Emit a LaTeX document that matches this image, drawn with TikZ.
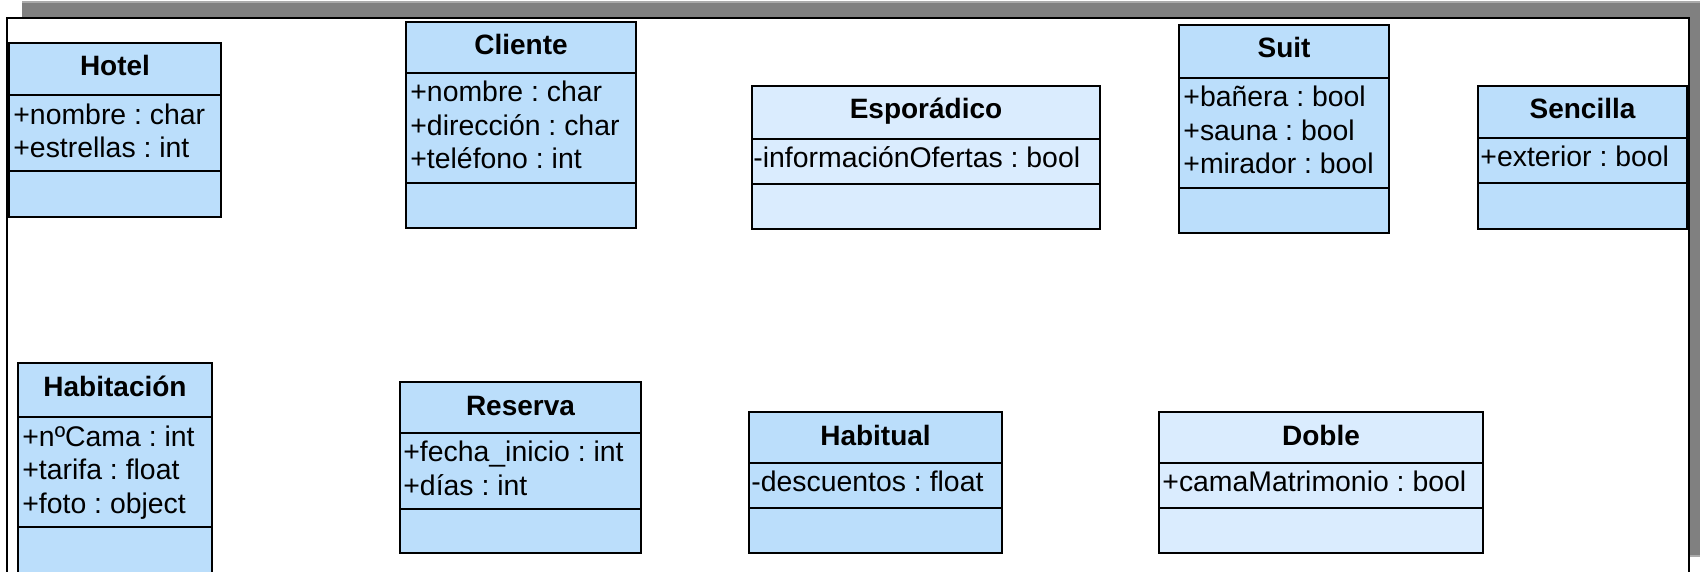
\documentclass[tikz,border=0pt]{standalone}
\usepackage{fontspec}
\setmainfont{Liberation Sans}
\usetikzlibrary{calc}
\frenchspacing
\definecolor{clsdark}{RGB}{187,222,251}
\definecolor{clslight}{RGB}{218,236,254}
\definecolor{shadowgray}{RGB}{128,128,128}
\definecolor{shadowedge}{RGB}{170,170,170}
\tikzset{
  boxline/.style={draw=black, line width=0.9pt},
  clstitle/.style={font=\fontsize{14}{16}\selectfont\bfseries, anchor=base, inner sep=0pt},
  clsattr/.style={font=\fontsize{14.2}{16}\selectfont\frenchspacing, anchor=base west, inner sep=0pt},
}
% #1 id, #2 x1, #3 x2, #4 y1, #5 yh, #6 ya, #7 y2, #8 fill, #9 title
\newcommand\umlclass[9]{%
  \fill[#8] (#2,#4) rectangle (#3,#7);
  \draw[boxline] (#2,#4) rectangle (#3,#7);
  \draw[boxline] (#2,#5) -- (#3,#5);
  \draw[boxline] (#2,#6) -- (#3,#6);
  \node[clstitle] (#1) at ({(#2+#3)/2},#4+33) {#9};
}
% #1 id, #2 x, #3 y(baseline), #4 text
\newcommand\umlattr[4]{\node[clsattr] (#1) at (#2,#3) {#4};}
\begin{document}
\begin{tikzpicture}[x=0.5pt,y=-0.5pt]
\useasboundingbox (0,0) rectangle (1700,572);
\clip (0,0) rectangle (1700,572);
% shadow and frame
\fill[shadowgray] (22,2) rectangle (1710,556);
\draw[shadowedge, line width=0.6pt] (22,2) -- (1710,2);
\draw[shadowedge, line width=0.6pt] (22,556) -- (1710,556);
\fill[white] (7,18) rectangle (1689,600);
\draw[black, line width=1.1pt] (7,600) -- (7,18) -- (1689,18) -- (1689,600);
% Hotel
\umlclass{hotel}{9}{221}{43}{95}{171}{217}{clsdark}{Hotel}
\umlattr{hotel-a1}{13}{125}{+nombre : char}
\umlattr{hotel-a2}{13}{158}{+estrellas : int}
% Cliente
\umlclass{cliente}{406}{636}{22}{73}{183}{228}{clsdark}{Cliente}
\umlattr{cliente-a1}{410}{102}{+nombre : char}
\umlattr{cliente-a2}{410}{135.5}{+dirección : char}
\umlattr{cliente-a3}{410}{169}{+teléfono : int}
% Esporadico
\umlclass{esporadico}{752}{1100}{86}{139}{184}{229}{clslight}{Esporádico}
\umlattr{esporadico-a1}{753}{168}{-informaciónOfertas : bool}
% Suit
\umlclass{suit}{1179}{1389}{25}{78}{188}{233}{clsdark}{Suit}
\umlattr{suit-a1}{1183}{107}{+bañera : bool}
\umlattr{suit-a2}{1183}{140.5}{+sauna : bool}
\umlattr{suit-a3}{1183}{174}{+mirador : bool}
% Sencilla
\umlclass{sencilla}{1478}{1687}{86}{138}{183}{229}{clsdark}{Sencilla}
\umlattr{sencilla-a1}{1480}{167}{+exterior : bool}
% Habitacion
\umlclass{habitacion}{18}{212}{363}{417}{527}{574}{clsdark}{Habitación}
\umlattr{habitacion-a1}{22}{446}{+nºCama : int}
\umlattr{habitacion-a2}{22}{479.5}{+tarifa : float}
\umlattr{habitacion-a3}{22}{513}{+foto : object}
% Reserva
\umlclass{reserva}{400}{641}{382}{433}{509}{553}{clsdark}{Reserva}
\umlattr{reserva-a1}{403}{461}{+fecha\_inicio : int}
\umlattr{reserva-a2}{403}{495}{+días : int}
% Habitual
\umlclass{habitual}{749}{1002}{412}{463}{508}{553}{clsdark}{Habitual}
\umlattr{habitual-a1}{751}{491}{-descuentos : float}
% Doble
\umlclass{doble}{1159}{1483}{412}{463}{508}{553}{clslight}{Doble}
\umlattr{doble-a1}{1162}{491}{+camaMatrimonio : bool}
\end{tikzpicture}
\end{document}
